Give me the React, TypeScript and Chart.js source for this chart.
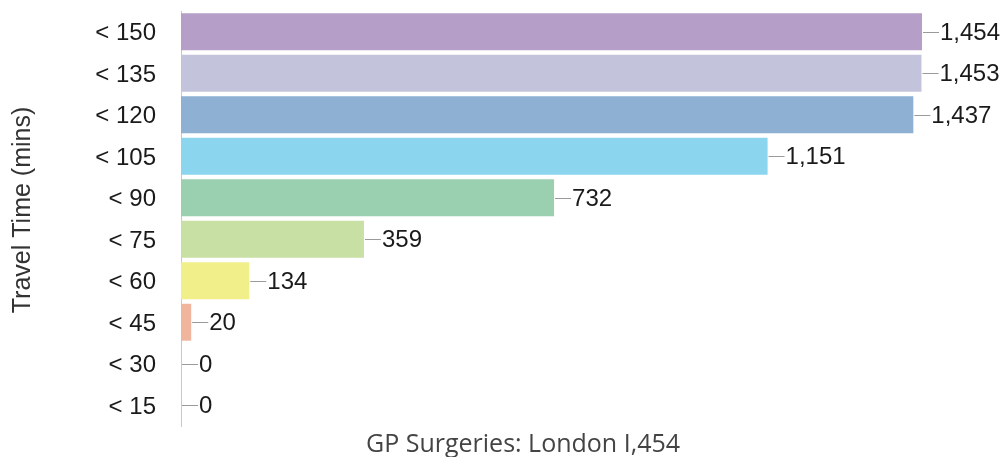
import React, { useEffect, useRef } from "react";
import { Chart, registerables } from "chart.js";

Chart.register(...registerables);

const categories = ["< 150", "< 135", "< 120", "< 105", "< 90", "< 75", "< 60", "< 45", "< 30", "< 15"];
const values = [1454, 1453, 1437, 1151, 732, 359, 134, 20, 0, 0];
const barColors = ["#b59fc8", "#c3c4db", "#8db0d3", "#8cd5ef", "#9acfb0", "#c9e0a5", "#f1ef8a", "#f0b59c", "#cccccc", "#cccccc"];
const yTitle = "Travel Time (mins)";
const xTitle = "GP Surgeries: London I,454";

const SANS = "Arial, 'Liberation Sans', Helvetica, sans-serif";

const labelPlugin = {
  id: "customLabels",
  afterDatasetsDraw(chart: any) {
    const ctx = chart.ctx;
    const meta = chart.getDatasetMeta(0);
    ctx.save();
    meta.data.forEach((bar: any, i: number) => {
      const x = bar.x;
      const y = Math.round(bar.y);
      ctx.strokeStyle = "#9a9a9a";
      ctx.lineWidth = 1;
      ctx.beginPath();
      ctx.moveTo(x + 1, y + 0.5);
      ctx.lineTo(x + 17, y + 0.5);
      ctx.stroke();
      ctx.fillStyle = "#1a1a1a";
      ctx.font = "24px " + SANS;
      ctx.textAlign = "left";
      ctx.textBaseline = "middle";
      ctx.fillText(values[i].toLocaleString("en-US"), x + 18, y + 1);
    });
    // y title
    ctx.save();
    ctx.translate(23, 210);
    ctx.rotate(-Math.PI / 2);
    ctx.fillStyle = "#333333";
    ctx.font = "25px " + SANS;
    ctx.textAlign = "center";
    ctx.textBaseline = "middle";
    ctx.fillText(yTitle, 0, 0);
    ctx.restore();
    // x title
    ctx.fillStyle = "#444444";
    ctx.font = "25px 'Open Sans', Lato, sans-serif";
    ctx.textAlign = "center";
    ctx.textBaseline = "middle";
    ctx.fillText(xTitle, 523, 445);
    ctx.restore();
  },
};

export default function App() {
  const ref = useRef<HTMLCanvasElement | null>(null);
  useEffect(() => {
    if (!ref.current) return;
    const chart = new Chart(ref.current, {
      type: "bar",
      data: {
        labels: categories,
        datasets: [
          {
            data: values,
            backgroundColor: barColors,
            borderWidth: 0,
            barPercentage: 0.89,
            categoryPercentage: 1,
          },
        ],
      },
      options: {
        indexAxis: "y",
        animation: false,
        responsive: true,
        maintainAspectRatio: false,
        layout: { padding: { left: 0, top: 11, right: 84, bottom: 31 } },
        plugins: { legend: { display: false }, tooltip: { enabled: false } },
        scales: {
          x: { display: false, min: 0, max: 1454 },
          y: {
            afterFit: (s: any) => {
              s.width = 181;
              s.paddingTop = 0;
              s.paddingBottom = 0;
            },
            grid: { display: false, drawTicks: false },
            border: { display: true, color: "#c8c8c8", width: 1 },
            ticks: {
              padding: 25,
              labelOffset: 2,
              color: "#1a1a1a",
              font: { family: SANS, size: 24 },
            },
          },
        },
      },
      plugins: [labelPlugin],
    });
    return () => chart.destroy();
  }, []);
  return (
    <div style={{ position: "fixed", left: 0, top: 0, width: 1006, height: 457, background: "#fff" }}>
      <canvas ref={ref} />
    </div>
  );
}
